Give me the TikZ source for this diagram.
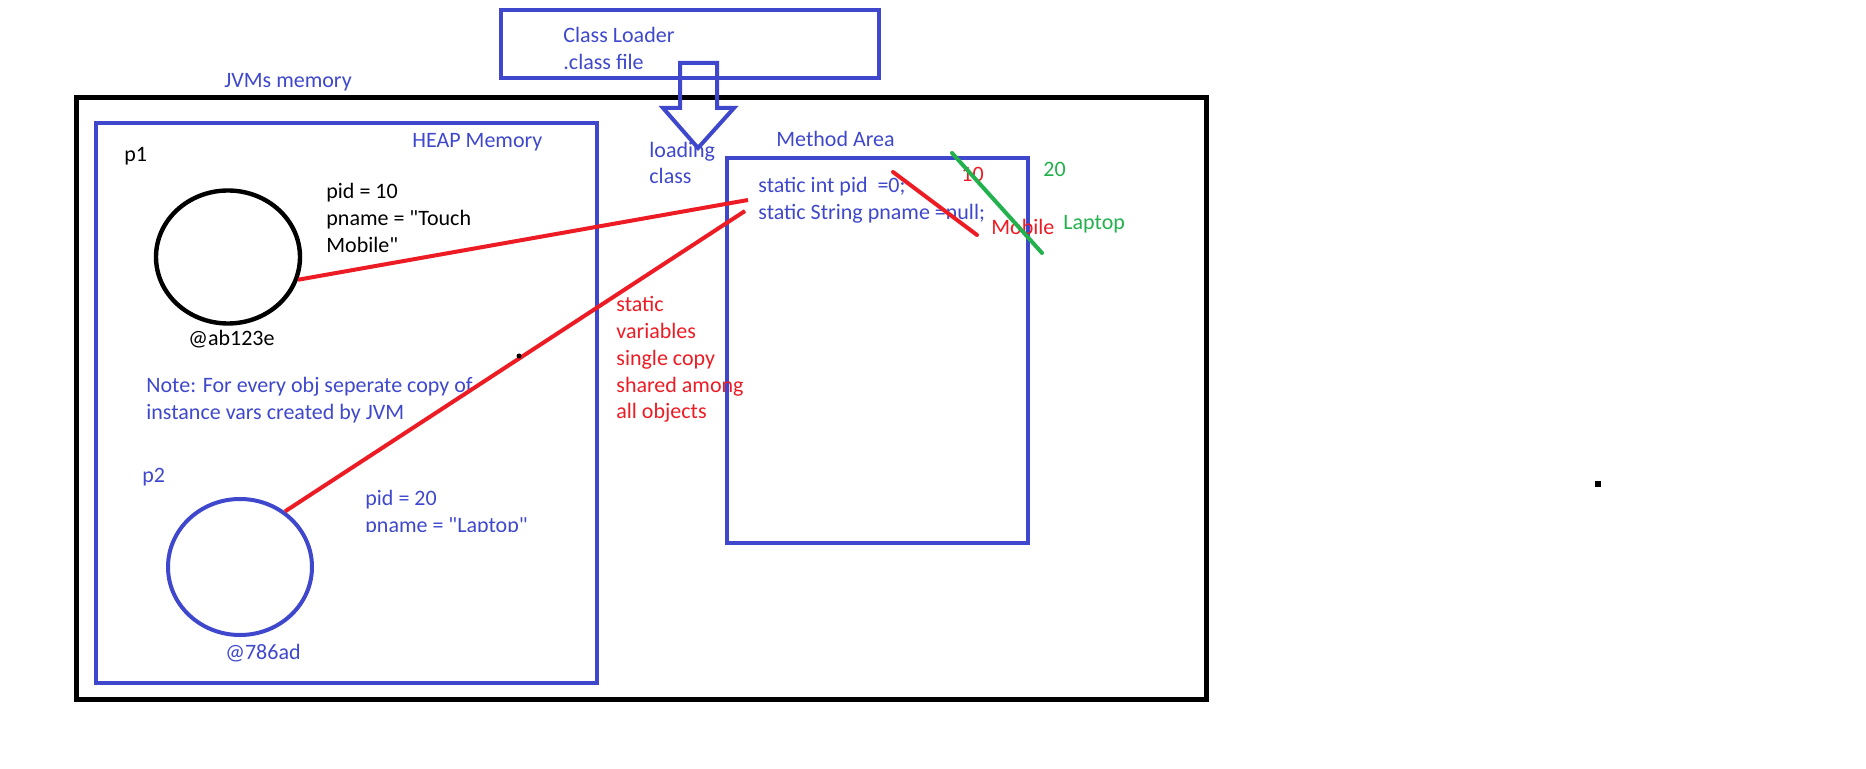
\documentclass[tikz,border=0pt]{standalone}
\usepackage{fontspec}
\setmainfont[Ligatures=TeXOff]{Carlito}
\usetikzlibrary{shapes.geometric}
\definecolor{pblue}{HTML}{3F48CC}
\definecolor{pred}{HTML}{ED1C24}
\definecolor{pgreen}{HTML}{22B14C}
\begin{document}
\begin{tikzpicture}[x=0.5pt,y=-0.5pt,
  lbl/.style={anchor=base west,inner sep=0pt,font=\fontsize{11}{13.5}\selectfont},
  bluebox/.style={draw=pblue,line width=2pt},
  redln/.style={draw=pred,line width=2pt},
  greenln/.style={draw=pgreen,line width=2pt}]
\useasboundingbox (0,0) rectangle (1866,769);
% class loader
\draw[bluebox] (501,10) rectangle (879,78);
\node[lbl,text=pblue] (cl1) at (563,43) {Class Loader};
\node[lbl,text=pblue] (cl2) at (563,70) {.class file};
% JVM memory
\draw[line width=2.5pt] (76,98) rectangle (1206,699);
\node[lbl,text=pblue] (jvm) at (224,88) {JVMs memory};
% hollow arrow
\draw[pblue,line width=2pt,line join=miter] (680,63) -- (717,63) -- (717,108) -- (734,108) -- (698,148) -- (663,108) -- (680,108) -- cycle;
\node[lbl,text=pblue] (ld1) at (649,158) {loading};
\node[lbl,text=pblue] (ld2) at (649,184) {class};
% heap
\draw[bluebox] (96,123) rectangle (597,683);
\node[lbl,text=pblue] (heap) at (412,148) {HEAP Memory};
\node[lbl] (p1) at (124,162) {p1};
\node[draw,line width=2.2pt,ellipse,minimum width=72pt,minimum height=66.5pt,inner sep=0pt] (p1c) at (228,257) {};
\node[lbl] (a1) at (326,199) {pid = 10};
\node[lbl] (a2) at (326,226) {pname = "Touch};
\node[lbl] (a3) at (326,253) {Mobile"};
\node[lbl] (ad1) at (188,346) {@ab123e};
\node[lbl,text=pblue] (n1) at (146,393) {Note: For every obj seperate copy of};
\node[lbl,text=pblue] (n2) at (146,420) {instance vars created by JVM};
\node[lbl,text=pblue] (p2) at (142,482) {p2};
\node[draw=pblue,line width=2pt,ellipse,minimum width=72pt,minimum height=68pt,inner sep=0pt] (p2c) at (240,567) {};
\node[lbl,text=pblue] (b1) at (365,505) {pid = 20};
\begin{scope}
\clip (300,510) rectangle (590,531);
\node[lbl,text=pblue] (b2) at (365,532) {pname = "Laptop"};
\end{scope}
\node[lbl,text=pblue] (ad2) at (225,659) {@786ad};
% method area
\draw[bluebox] (727,158) rectangle (1028,543);
\node[lbl,text=pblue] (ma) at (776,147) {Method Area};
\node[lbl,text=pblue] (s1) at (758,193) {static int pid~~=0;};
\node[lbl,text=pblue] (s2) at (758,220) {static String pname =null;};
% static note
\node[lbl,text=pred] (r1) at (616,312) {static};
\node[lbl,text=pred] (r2) at (616,339) {variables};
\node[lbl,text=pred] (r3) at (616,366) {single copy};
\node[lbl,text=pred] (r4) at (616,393) {shared among};
\node[lbl,text=pred] (r5) at (616,419) {all objects};
% values
\node[lbl,text=pred] (v10) at (961,182) {10};
\node[lbl,text=pgreen] (v20) at (1043,177) {20};
\node[lbl,text=pred] (mob) at (991,235) {Mobile};
\node[lbl,text=pgreen] (lap) at (1063,230) {Laptop};
\coordinate (e1) at (748,200);
\coordinate (e2) at (745,211);
\draw[redln] (p1c.-18) -- (e1);
\draw[redln] (p2c.51) -- (e2);
\coordinate (rs1) at (893,172); \coordinate (rs2) at (977,235);
\draw[redln,line cap=round] (rs1) -- (rs2);
\coordinate (gs1) at (952,153); \coordinate (gs2) at (1042,253);
\draw[greenln,line cap=round] (gs1) -- (gs2);
% marks
\fill (519,356) circle (2.5);
\fill (1595,481) rectangle (1601,487);
\end{tikzpicture}
\end{document}
